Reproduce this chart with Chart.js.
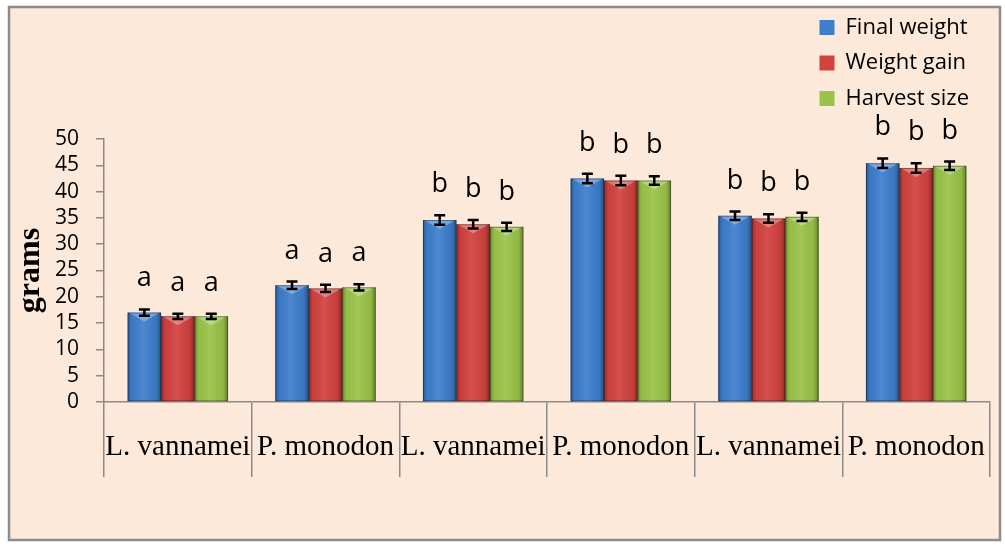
<!DOCTYPE html>
<html>
  <head>
    <meta charset="utf-8"/>
    <style type="text/css">
      body {
        margin: 0px;
        padding: 0px;
        background: #ffffff;
      }
      #container {
        width: 1005px;
        height: 550px;
      }
    </style>
  </head>
  <body>
    <div id="container"><canvas id="chart" width="1005" height="550"></canvas></div>
    <script src="https://cdn.jsdelivr.net/npm/chart.js@4.4.0/dist/chart.umd.min.js"></script>
    <script>
      // values (grams)
      var categories = ['L. vannamei', 'P. monodon', 'L. vannamei', 'P. monodon', 'L. vannamei', 'P. monodon'];
      var finalWeight = [17.0, 22.2, 34.6, 42.5, 35.4, 45.4];
      var weightGain = [16.3, 21.6, 33.8, 42.1, 34.9, 44.5];
      var harvestSize = [16.3, 21.8, 33.3, 42.1, 35.2, 44.9];
      var finalWeightErr = [0.6, 0.7, 0.9, 0.9, 0.8, 0.9];
      var weightGainErr = [0.5, 0.7, 0.8, 0.9, 0.8, 0.9];
      var harvestSizeErr = [0.5, 0.6, 0.8, 0.8, 0.8, 0.8];
      var finalWeightSig = ['a', 'a', 'b', 'b', 'b', 'b'];
      var weightGainSig = ['a', 'a', 'b', 'b', 'b', 'b'];
      var harvestSizeSig = ['a', 'a', 'b', 'b', 'b', 'b'];
      var yMin = 0, yMax = 50, yStep = 5;

      var axisGrey = '#8a8a8a';

      // page frame: peach box with grey border
      var framePlugin = {
        id: 'frame',
        beforeDraw: function(chart) {
          var ctx = chart.ctx;
          ctx.save();
          ctx.fillStyle = '#ffffff';
          ctx.fillRect(0, 0, chart.width, chart.height);
          ctx.fillStyle = '#fde9da';
          ctx.fillRect(9, 7, 991, 533);
          ctx.strokeStyle = '#8c8c8c';
          ctx.lineWidth = 2.5;
          ctx.strokeRect(9, 7, 991, 533);
          ctx.restore();
        }
      };

      // excel-like bevel shading on each bar
      var bevelPlugin = {
        id: 'bevel',
        afterDatasetsDraw: function(chart) {
          var ctx = chart.ctx;
          chart.data.datasets.forEach(function(ds, di) {
            chart.getDatasetMeta(di).data.forEach(function(bar) {
              var l = bar.x - bar.width / 2, r = bar.x + bar.width / 2;
              var t = bar.y, b = bar.base;
              ctx.save();
              var g = ctx.createLinearGradient(l, 0, r, 0);
              g.addColorStop(0, 'rgba(0,0,0,0.30)');
              g.addColorStop(0.12, 'rgba(0,0,0,0.04)');
              g.addColorStop(0.45, 'rgba(255,255,255,0.08)');
              g.addColorStop(0.85, 'rgba(0,0,0,0.06)');
              g.addColorStop(1, 'rgba(0,0,0,0.35)');
              ctx.fillStyle = g;
              ctx.fillRect(l, t, r - l, b - t);
              ctx.beginPath();
              ctx.moveTo(l + 1, t);
              ctx.lineTo(r - 1, t);
              ctx.lineTo(bar.x, t + 9);
              ctx.closePath();
              ctx.fillStyle = 'rgba(255,255,255,0.30)';
              ctx.fill();
              ctx.strokeStyle = 'rgba(0,0,0,0.35)';
              ctx.lineWidth = 1;
              ctx.strokeRect(l + 0.5, t + 0.5, r - l - 1, b - t - 1);
              ctx.restore();
            });
          });
        }
      };

      // error bars and significance letters
      var errorPlugin = {
        id: 'errors',
        afterDatasetsDraw: function(chart) {
          var ctx = chart.ctx;
          var y = chart.scales.y;
          ctx.save();
          ctx.strokeStyle = '#000000';
          ctx.fillStyle = '#000000';
          ctx.lineWidth = 2.5;
          ctx.font = '27px "Open Sans"';
          ctx.textAlign = 'center';
          ctx.textBaseline = 'alphabetic';
          chart.data.datasets.forEach(function(ds, di) {
            chart.getDatasetMeta(di).data.forEach(function(bar, i) {
              var v = ds.data[i], e = ds.errors[i];
              var top = y.getPixelForValue(v + e), bot = y.getPixelForValue(v - e);
              ctx.beginPath();
              ctx.moveTo(bar.x, top); ctx.lineTo(bar.x, bot);
              ctx.moveTo(bar.x - 5.5, top); ctx.lineTo(bar.x + 5.5, top);
              ctx.moveTo(bar.x - 5.5, bot); ctx.lineTo(bar.x + 5.5, bot);
              ctx.stroke();
              ctx.fillText(ds.letters[i], bar.x, top - 23);
            });
          });
          ctx.restore();
        }
      };

      // move the legend to the top right corner, above the plot
      var legendSpot = {
        id: 'legendSpot',
        afterLayout: function(chart) {
          var lg = chart.legend;
          lg.left = 806;
          lg.top = 3;
          lg.right = 1000;
          lg.bottom = 200;
        }
      };

      var data = {
        labels: categories,
        datasets: [{
          label: 'Final weight',
          data: finalWeight,
          errors: finalWeightErr,
          letters: finalWeightSig,
          backgroundColor: '#3e7ecd',
          borderWidth: 0
        }, {
          label: 'Weight gain',
          data: weightGain,
          errors: weightGainErr,
          letters: weightGainSig,
          backgroundColor: '#d2423f',
          borderWidth: 0
        }, {
          label: 'Harvest size',
          data: harvestSize,
          errors: harvestSizeErr,
          letters: harvestSizeSig,
          backgroundColor: '#9ac449',
          borderWidth: 0
        }]
      };

      var options = {
        responsive: false,
        animation: false,
        devicePixelRatio: 1,
        categoryPercentage: 0.68,
        barPercentage: 1.0,
        layout: {
          padding: { left: 12, right: 15, top: 139, bottom: 68 }
        },
        plugins: {
          tooltip: { enabled: false },
          legend: {
            position: 'chartArea',
            align: 'start',
            labels: {
              boxWidth: 15,
              boxHeight: 15,
              padding: 13.5,
              color: '#000000',
              font: { family: 'Open Sans', size: 22 }
            }
          }
        },
        scales: {
          x: {
            grid: {
              offset: true,
              drawOnChartArea: false,
              drawTicks: true,
              tickLength: 75,
              color: axisGrey,
              lineWidth: 1.5
            },
            border: { color: axisGrey, width: 1.5 },
            ticks: {
              color: '#000000',
              font: { family: 'Liberation Serif', size: 29 },
              padding: -47,
              maxRotation: 0,
              minRotation: 0,
              autoSkip: false
            },
            afterFit: function(s) { s.height = 80; }
          },
          y: {
            min: yMin,
            max: yMax,
            ticks: {
              stepSize: yStep,
              autoSkip: false,
              color: '#000000',
              font: { family: 'Open Sans', size: 21 },
              padding: 17
            },
            grid: {
              drawOnChartArea: false,
              drawTicks: true,
              tickLength: 8,
              color: axisGrey,
              lineWidth: 1.5
            },
            border: { color: axisGrey, width: 1.5 },
            title: {
              display: true,
              text: 'grams',
              color: '#000000',
              font: { family: 'Liberation Serif', size: 32, weight: 'bold' },
              padding: 0
            },
            afterFit: function(s) { s.width = 92; }
          }
        }
      };

      var chart = new Chart(document.getElementById('chart'), {
        type: 'bar',
        data: data,
        options: options,
        plugins: [framePlugin, bevelPlugin, errorPlugin, legendSpot]
      });
    </script>
  </body>
</html>
